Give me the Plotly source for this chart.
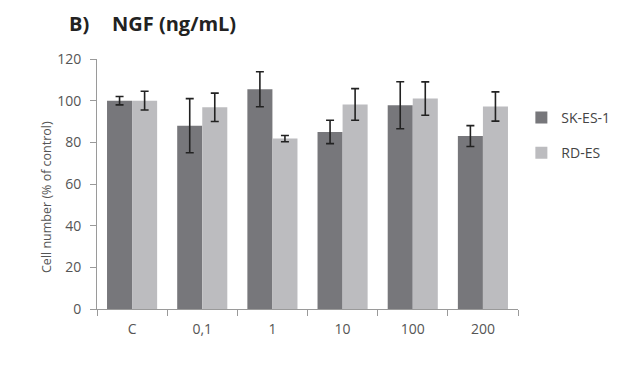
import plotly.graph_objects as go

categories = ["C", "0,1", "1", "10", "100", "200"]
sk_es_1 = [100, 88, 105.5, 85, 97.8, 83]
sk_es_1_err = [2, 13, 8.4, 5.6, 11.3, 5]
rd_es = [100, 96.8, 81.8, 98.2, 101, 97.2]
rd_es_err = [4.5, 6.8, 1.5, 7.6, 8, 7]
y_ticks = [0, 20, 40, 60, 80, 100, 120]

font_family = "Open Sans, Lato, DejaVu Sans, sans-serif"

fig = go.Figure()
fig.add_trace(go.Bar(
    x=categories, y=sk_es_1, name="SK-ES-1", legendgroup="a",
    marker=dict(color="#77777b", line=dict(width=0)),
    error_y=dict(type="data", array=sk_es_1_err, color="#222222", thickness=1.6, width=4),
))
fig.add_trace(go.Bar(
    x=categories, y=rd_es, name="RD-ES", legendgroup="b",
    marker=dict(color="#bcbcbf", line=dict(width=0)),
    error_y=dict(type="data", array=rd_es_err, color="#222222", thickness=1.6, width=4),
))

# page body adds an 8px offset, so margins are reduced accordingly
fig.update_layout(
    width=621, height=365,
    margin=dict(l=89, r=111, t=51, b=64),
    paper_bgcolor="white", plot_bgcolor="white",
    barmode="group", bargap=0.286, bargroupgap=0,
    font=dict(family=font_family, color="#555555", size=12),
    legend=dict(x=1.008, xanchor="left", y=0.828, yanchor="top",
                font=dict(size=14, color="#444444"), tracegroupgap=14,
                traceorder="grouped", bgcolor="rgba(0,0,0,0)"),
    xaxis=dict(showline=True, linecolor="#9a9a9a", linewidth=1,
               ticks="outside", tickson="boundaries", ticklen=6, tickcolor="#9a9a9a",
               ticklabelstandoff=7,
               showgrid=False, tickfont=dict(size=14, color="#555555")),
    yaxis=dict(range=[0, 120], tickvals=y_ticks, showline=True, linecolor="#9a9a9a",
               linewidth=1, ticks="outside", ticklen=6, tickcolor="#9a9a9a",
               ticklabelstandoff=6,
               showgrid=False, zeroline=False, tickfont=dict(size=14, color="#555555")),
    annotations=[
        dict(text="<b>B)</b>", xref="paper", yref="paper", x=(59 - 89) / 421, y=1 + (51 - 16) / 250,
             xanchor="left", yanchor="middle", showarrow=False,
             font=dict(size=20, color="#222222", family=font_family)),
        dict(text="<b>NGF (ng/mL)</b>", xref="paper", yref="paper", x=(102 - 89) / 421, y=1 + (51 - 16) / 250,
             xanchor="left", yanchor="middle", showarrow=False,
             font=dict(size=20, color="#222222", family=font_family)),
        dict(text="Cell number (% of control)", xref="paper", yref="paper",
             x=(38 - 89) / 421, y=(301 - 189) / 250, textangle=-90,
             xanchor="center", yanchor="middle", showarrow=False,
             font=dict(size=12.5, color="#555555", family=font_family)),
    ],
)

fig.write_html("out.html")
